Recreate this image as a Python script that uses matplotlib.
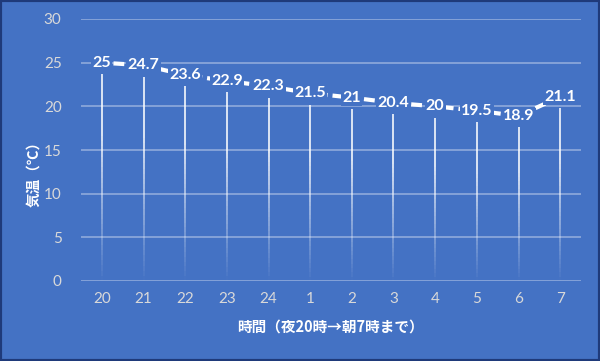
import matplotlib
matplotlib.use("Agg")
import matplotlib.pyplot as plt
import numpy as np

plt.rcParams['font.family'] = ['Noto Sans CJK JP', 'DejaVu Sans']

hours = ["20", "21", "22", "23", "24", "1", "2", "3", "4", "5", "6", "7"]
temps = [25, 24.7, 23.6, 22.9, 22.3, 21.5, 21, 20.4, 20, 19.5, 18.9, 21.1]
yticks = [0, 5, 10, 15, 20, 25, 30]
ylabel = "気温（℃）"
xlabel = "時間（夜20時→朝7時まで）"

bg = "#4472C4"
fig = plt.figure(figsize=(6.0, 3.61), dpi=100, facecolor=bg)
ax = fig.add_axes([81/600, 1-281/361, 500/600, 262/361])
ax.set_facecolor(bg)

x = np.arange(len(hours))
ax.set_xlim(-0.5, len(hours) - 0.5)
ax.set_ylim(0, 30)

# gridlines
for t in yticks:
    ax.axhline(t, color="#8FAADC", lw=1.2, zorder=1)

# fading vertical drop lines
gap = 1.3
nseg = 40
for xi, v in zip(x, temps):
    top = v - gap
    edges = np.linspace(0, top, nseg + 1)
    for k in range(nseg):
        a = min(1.0, ((k + 0.5) / nseg) * 1.4) * 0.95
        ax.vlines(xi, edges[k], edges[k + 1], color="white", alpha=a, lw=1.2, zorder=2)

# dashed line
ax.plot(x, temps, color="white", lw=3, ls=(1.0, (2.6, 1.2)), zorder=3)

for xi, v in zip(x, temps):
    ax.text(xi, v, f"{v:g}", ha="center", va="center", color="white",
            fontsize=11.5, fontweight="bold", zorder=4, family=["Lato"],
            bbox=dict(boxstyle="square,pad=0.08", fc=bg, ec="none"))

ax.set_xticks(x)
ax.set_xticklabels(hours, family=["Lato"])
ax.set_yticks(yticks)
ax.set_yticklabels([str(t) for t in yticks], family=["Lato"])
ax.tick_params(axis="both", length=0, colors="#D9D9D9", labelsize=11)
ax.tick_params(axis="x", pad=8)
ax.tick_params(axis="y", pad=14)
for s in ax.spines.values():
    s.set_visible(False)

fig.text(33/600, 1-170/361, ylabel, rotation=90, ha="center", va="center",
         color="white", fontsize=10.5, fontweight="bold")
fig.text(330/600, 1-327/361, xlabel, ha="center", va="center",
         color="white", fontsize=10.5, fontweight="bold")

# border
border = plt.Rectangle((0, 0), 1, 1, transform=fig.transFigure, fill=False,
                       ec="#1F3A7A", lw=3, zorder=10)
fig.patches.append(border)

fig.savefig("out.png", dpi=100, facecolor=bg)
